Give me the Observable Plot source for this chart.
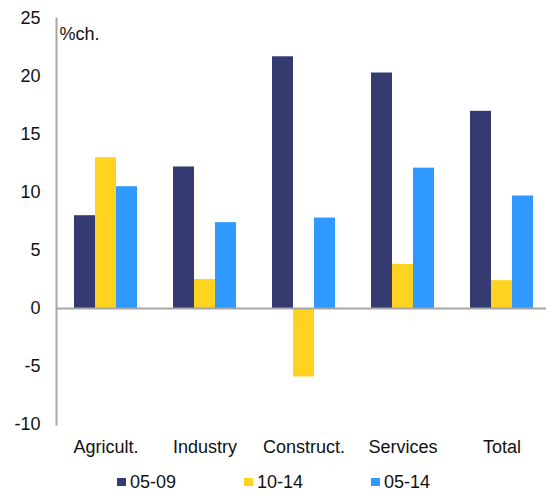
<!DOCTYPE html>
<html>
<head>
<meta charset="utf-8">
<script src="https://cdn.jsdelivr.net/npm/d3@7"></script>
<script src="https://cdn.jsdelivr.net/npm/@observablehq/plot@0.6"></script>
<style>
  html, body { margin: 0; padding: 0; background: #fff; overflow: hidden; }
  body { width: 546px; height: 497px; position: relative; font-family: "Liberation Sans", Arial, sans-serif; }
  #legend { position: absolute; left: 117px; top: 472px; display: flex; font-size: 18px; color: #111; }
  .item { width: 127px; display: flex; align-items: center; height: 20px; }
  .sw { width: 9px; height: 8px; margin-right: 4px; }
</style>
</head>
<body>
<div id="chart"></div>
<div id="legend"></div>
<script>
const categories = ["Agricult.", "Industry", "Construct.", "Services", "Total"];
const seriesNames = ["05-09", "10-14", "05-14"];
const values0509 = [8.0, 12.2, 21.7, 20.3, 17.0];
const values1014 = [13.0, 2.5, -5.9, 3.8, 2.4];
const values0514 = [10.5, 7.4, 7.8, 12.1, 9.7];
const yTicks = [-10, -5, 0, 5, 10, 15, 20, 25];
const colors = ["#353b71", "#ffd320", "#2f99ff"];
const unitLabel = "%ch.";

const seriesValues = [values0509, values1014, values0514];
const data = [];
categories.forEach((c, i) => {
  seriesNames.forEach((s, j) => data.push({category: c, series: s, value: seriesValues[j][i]}));
});

const axisGray = "#a6a6a6";
const fs = 18;

const chart = Plot.plot({
  width: 546,
  height: 460,
  marginLeft: 55,
  marginRight: 0,
  marginTop: 18,
  marginBottom: 36,
  style: {fontFamily: "'Liberation Sans', Arial, sans-serif", fontSize: fs + "px", color: "#111", background: "white"},
  fx: {domain: categories, range: [55, 552.5], padding: 0, label: null},
  x: {domain: seriesNames, paddingInner: 0, paddingOuter: 0.76, axis: null},
  y: {domain: [-10, 25], label: null},
  color: {domain: seriesNames, range: colors},
  marks: [
    Plot.barY(data, {fx: "category", x: "series", y: "value", fill: "series"}),
    Plot.ruleY([0], {stroke: axisGray, strokeWidth: 2}),
    Plot.frame({anchor: "left", stroke: axisGray, strokeWidth: 2, facetAnchor: "left"}),
    Plot.axisY({ticks: yTicks, tickSize: 0, tickPadding: 16, fontSize: fs, label: null, tickFormat: d => String(d).replace("\u2212", "-")}),
    Plot.axisFx({anchor: "bottom", tickSize: 0, tickPadding: 16, fontSize: fs, label: null}),
    Plot.text([{category: categories[0], t: unitLabel}], {fx: "category", text: "t", frameAnchor: "top-left", dx: 3, dy: 21, lineAnchor: "bottom", textAnchor: "start", fontSize: fs})
  ]
});
document.getElementById("chart").appendChild(chart);

const legend = document.getElementById("legend");
seriesNames.forEach((s, i) => {
  const item = document.createElement("div");
  item.className = "item";
  const sw = document.createElement("span");
  sw.className = "sw";
  sw.style.background = colors[i];
  const t = document.createElement("span");
  t.textContent = s;
  item.appendChild(sw);
  item.appendChild(t);
  legend.appendChild(item);
});
</script>
</body>
</html>
